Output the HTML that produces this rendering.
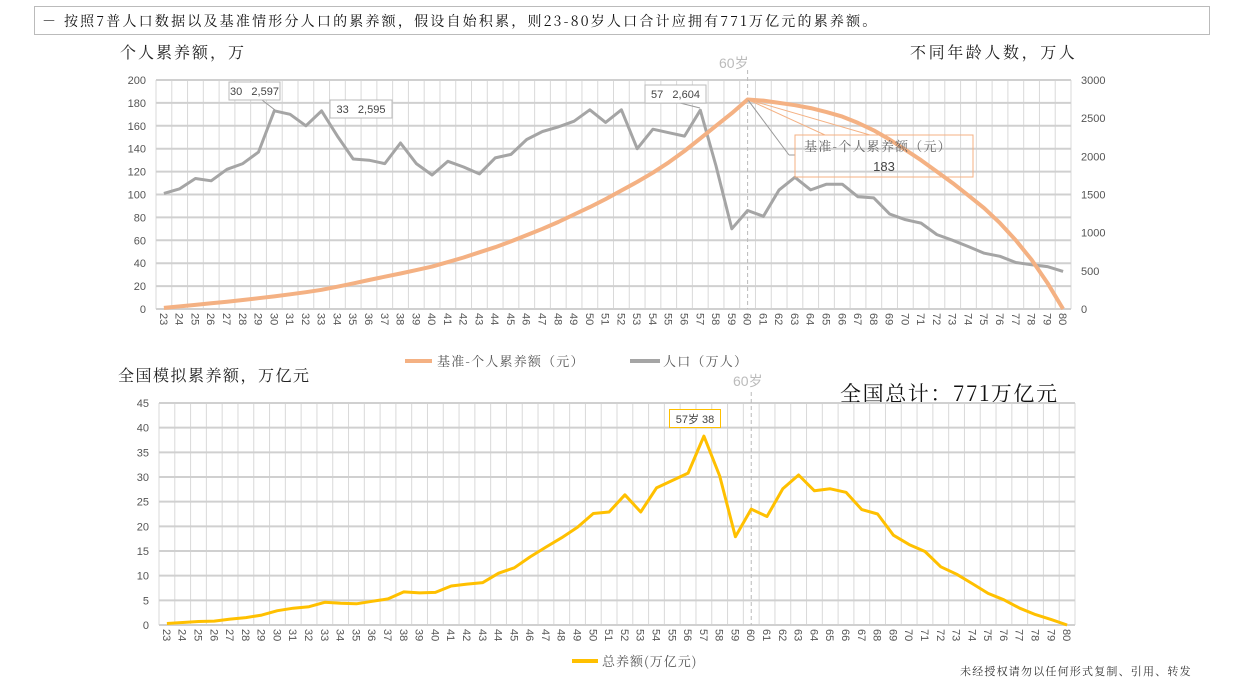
<!DOCTYPE html>
<html><head><meta charset="utf-8"><style>
body{margin:0;width:1240px;height:682px;background:#fff;overflow:hidden;font-family:"Liberation Sans","Noto Sans CJK SC",sans-serif}
svg{position:absolute;left:0;top:0}
</style></head><body>
<svg id="s" width="1240" height="682" xmlns="http://www.w3.org/2000/svg">
<rect x="34.5" y="6.5" width="1175" height="28" fill="none" stroke="#bbb"/>
<text x="42" y="26" font-size="14" letter-spacing="2.2" font-family="'Noto Serif CJK SC','Noto Sans CJK SC',sans-serif" fill="#111">－ 按照7普人口数据以及基准情形分人口的累养额，假设自始积累，则23-80岁人口合计应拥有771万亿元的累养额。</text>
<text x="120" y="58" font-size="16" letter-spacing="2" font-family="'Noto Serif CJK SC',serif" fill="#222">个人累养额，万</text>
<text x="910" y="58" font-size="16" letter-spacing="2.6" font-family="'Noto Serif CJK SC',serif" fill="#222">不同年龄人数，万人</text>
<text x="719" y="68" font-size="14" fill="#bbb">60岁</text>
<text x="118" y="381" font-size="16" letter-spacing="1.5" font-family="'Noto Serif CJK SC',serif" fill="#222">全国模拟累养额，万亿元</text>
<text x="840" y="401" font-size="21" letter-spacing="1.6" font-family="'Noto Serif CJK SC',serif" fill="#111">全国总计：771万亿元</text>
<text x="733" y="386" font-size="14" fill="#bbb">60岁</text>
<line x1="405" y1="361" x2="432" y2="361" stroke="#F4B183" stroke-width="4"/>
<text x="437" y="366" font-size="13" letter-spacing="1.2" font-family="'Noto Serif CJK SC',serif" fill="#555">基准-个人累养额（元）</text>
<line x1="630" y1="361" x2="660" y2="361" stroke="#A5A5A5" stroke-width="4"/>
<text x="663" y="366" font-size="13" letter-spacing="1.2" font-family="'Noto Serif CJK SC',serif" fill="#555">人口（万人）</text>
<line x1="572" y1="661" x2="598" y2="661" stroke="#FFC000" stroke-width="4"/>
<text x="602" y="666" font-size="13" letter-spacing="1" font-family="'Noto Serif CJK SC',serif" fill="#555">总养额(万亿元)</text>
<text x="960" y="675" font-size="11" letter-spacing="1.2" font-family="'Noto Serif CJK SC',serif" fill="#333">未经授权请勿以任何形式复制、引用、转发</text>
<g id="g"></g>
</svg>
<script>
var g=document.getElementById('g'),h='';
var ages=[];for(var a=23;a<=80;a++)ages.push(a);
var pop=[101,105,114,112,122,127,137,173.1,170,160,173,151,131,130,127,145,127,117,129,124,118,132,135,148,155,159,164,174,163,174,140,157,154,151,173.6,125,70,86,81,104,115,104,109,109,98,97,83,78,75,65,60,54.5,48.7,46,40.6,38.6,37,32.8];
var pen=[1,2.3,3.6,5,6.4,7.9,9.4,11,12.8,14.7,16.8,19.5,22.4,25.3,28.2,31,34,37,41,45,49.5,54,59,64.5,70,76,82.5,89,96,103.5,111,119,128,138,149,160,171,183,182,180,178,175.5,172,168,162.5,156,148,139,130,120,110,99,88,75,60,43,23,0];
var tot=[0.3,0.5,0.7,0.8,1.2,1.5,2,2.9,3.4,3.7,4.6,4.4,4.3,4.8,5.3,6.7,6.5,6.6,7.9,8.3,8.6,10.5,11.6,13.8,15.8,17.7,19.8,22.6,22.9,26.4,22.9,27.8,29.3,30.8,38.3,30.2,17.9,23.5,22,27.6,30.4,27.2,27.6,26.9,23.4,22.5,18.2,16.3,14.9,11.8,10.3,8.4,6.4,5.1,3.4,2.1,1.1,0];
function chart(L,R,T,B,ymax,step,lblTop,sec){
 var n=58,w=(R-L)/n;
 for(var i=0;i<=n;i++){var x=L+i*w;h+='<line x1="'+x+'" y1="'+T+'" x2="'+x+'" y2="'+B+'" stroke="#d9d9d9" stroke-width="1"/>';}
 for(var v=0;v<=ymax;v+=step){var y=B-(B-T)*v/ymax;h+='<line x1="'+L+'" y1="'+y+'" x2="'+R+'" y2="'+y+'" stroke="#d0d0d0" stroke-width="2"/>';
  h+='<text x="'+(L-10)+'" y="'+(y+4)+'" font-size="11" fill="#555" text-anchor="end">'+v+'</text>';}
 if(sec){for(var v=0;v<=3000;v+=500){var y=B-(B-T)*v/3000;h+='<text x="'+(R+10)+'" y="'+(y+4)+'" font-size="11" fill="#555">'+v+'</text>';}}
 for(var i=0;i<n;i++){var x=L+(i+0.5)*w;h+='<text transform="translate('+(x-4)+','+(B+4)+') rotate(90)" font-size="11" fill="#555">'+ages[i]+'</text>';}
 return {X:function(i){return L+(i+0.5)*w},Y:function(v){return B-(B-T)*v/ymax}};
}
function poly(c,d,col,sw){var p=d.map(function(v,i){return c.X(i).toFixed(1)+','+c.Y(v).toFixed(1)}).join(' ');h+='<polyline points="'+p+'" fill="none" stroke="'+col+'" stroke-width="'+sw+'" stroke-linejoin="round"/>';}
var c1=chart(156,1071,80,309,200,20,true,true);
var x60=c1.X(37);
h+='<line x1="'+x60+'" y1="70" x2="'+x60+'" y2="309" stroke="#bbb" stroke-dasharray="4,3"/>';
poly(c1,pop,'#A5A5A5',3);
poly(c1,pen,'#F4B183',4);
function lab(x,y,w,t,col){h+='<rect x="'+x+'" y="'+y+'" width="'+w+'" height="18" fill="#fff" stroke="'+col+'"/><text x="'+(x+w/2)+'" y="'+(y+13)+'" font-size="11" fill="#444" text-anchor="middle" xml:space="preserve">'+t+'</text>';}
h+='<line x1="262" y1="100" x2="275" y2="110" stroke="#999"/>';
lab(229,82,51,'30   2,597','#bbb');
lab(330,100,62,'33   2,595','#bbb');
h+='<line x1="680" y1="103" x2="700" y2="108" stroke="#999"/>';
lab(645,85,61,'57   2,604','#bbb');
var py=c1.Y(183);
h+='<line x1="'+x60+'" y1="'+py+'" x2="789" y2="155" stroke="#999"/><line x1="789" y1="155" x2="795" y2="155" stroke="#999"/>';
h+='<line x1="'+x60+'" y1="'+py+'" x2="825" y2="135" stroke="#F4B183"/><line x1="'+x60+'" y1="'+py+'" x2="870" y2="135" stroke="#F4B183"/>';
h+='<rect x="795" y="135" width="178" height="42" fill="none" stroke="#F4B183"/>';
h+='<text x="878" y="151" font-size="13" letter-spacing="1.2" font-family="\'Noto Serif CJK SC\',serif" fill="#666" text-anchor="middle">基准-个人累养额（元）</text>';
h+='<text x="884" y="171" font-size="13" fill="#444" text-anchor="middle">183</text>';
var c2=chart(159,1075,403,625,45,5,false,false);
var x2=c2.X(37);
h+='<line x1="'+x2+'" y1="392" x2="'+x2+'" y2="625" stroke="#bbb" stroke-dasharray="4,3"/>';
poly(c2,tot,'#FFC000',3);
h+='<rect x="669.5" y="409.5" width="51" height="18" fill="#fff" stroke="#FFC000"/><text x="695" y="423" font-size="11" fill="#444" text-anchor="middle">57岁 38</text>';
g.innerHTML=h;
</script>
</body></html>
